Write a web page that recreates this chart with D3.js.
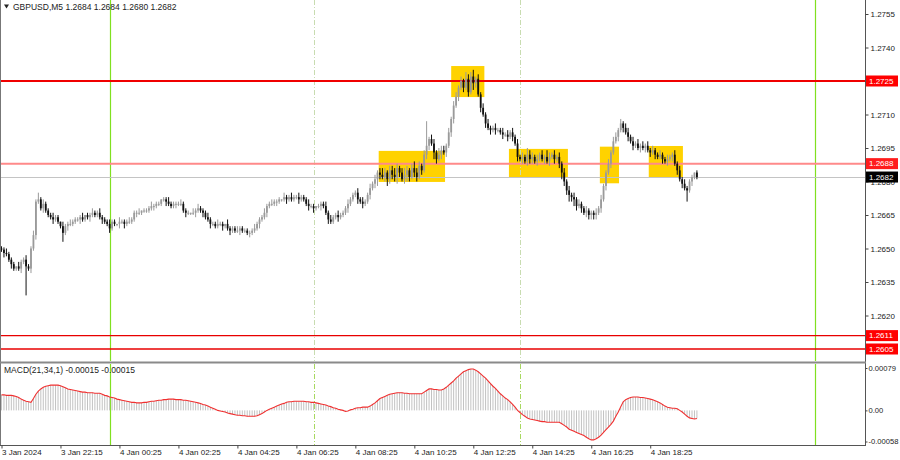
<!DOCTYPE html>
<html><head><meta charset="utf-8">
<script src="https://cdn.jsdelivr.net/npm/d3@7"></script>
<style>body{margin:0;background:#fff}svg{display:block;font-family:"Liberation Sans",Arial,sans-serif}</style>
</head><body><svg id="c" width="900" height="460"></svg>
<script>
// ---------------- DATA ----------------
const symbol = "GBPUSD,M5";
const headerOHLC = ["1.2684", "1.2684", "1.2680", "1.2682"];
const macdTitle = "MACD(21,34,1) -0.00015 -0.00015";
const basePrice = 1.2600;
// close of each M5 bar, in pips above basePrice
const closePips = [
  49.5,48,47.5,45, 43,41,42,41, 44,45,42,41, 50,56,71,72, 68,70,67,65,
  64,63,64,62, 60,57,60,61, 61,62,63,63, 64,63,65,64, 65,66,65,66,
  64,63,62,61, 59,62,61,61, 62,62,61,62, 62,63,66,66, 66,67,67,67,
  68,69,69,70, 70,72,72,71, 70,69,70,70, 70,70,67,66, 66,66,66,67,
  68,67,66,64, 63,61,61,60, 61,61,60,61, 59,58,59,58, 58,59,58,58,
  57,57,58,59, 61,63,64,66, 69,70,70,71, 71,72,72,73, 72,73,72,73,
  73,72,73,72, 70,69,69,68, 69,69,70,69, 66,63,62,64, 65,64,65,66,
  68,70,72,74, 75,72,71,70, 71,74,77,79, 81,84,83,82, 84,81,85,83,
  82,86,84,81, 83,85,82,86, 84,82,87,85, 92,96,99,97, 93,90,92,94,
  93,96,102,108, 114,118,122,125, 122,126,120,127, 124,126,119,113, 110,106,104,103,
  104,103,103,102, 101,101,100,102, 100,97,91,90, 91,89,92,90, 91,89,90,92,
  90,91,89,91, 92,90,91,88, 84,80,76,74, 73,72,69,70, 68,66,67,65,
  66,65,66,68, 72,78,84,88, 93,98,100,103, 106,104,102,100, 98,96,97,95,
  96,95,96,94, 93,94,92,91, 92,90,89,90, 91,92,88,85, 81,79,77,76,
  80,82,84,82
];
// upper / lower shadow length of each bar in pips (one base-36 digit per bar)
const wickUp = [
  "1121110211","2112131211","1211021121","1112011211","2111211021",
  "1121112011","1211101121","1112111021","2111211121","1021112111",
  "1112111211","2111021121","1211121101","1121211211","1211121211",
  "2121232122","3212321232","212b122132","2121221213","2231212121",
  "1211212121","2121322121","2132121212","1212121121","1121211212",
  "2121221212","1212121121","1211212121","1101"
].join("");
const wickDn = [
  "1211211121","d121211211","1211141211","1121112111","1211211121",
  "2111121111","1121111211","1211121112","1121121111","2112111211",
  "1211121121","1121112111","1211121211","2112111211","1211121211",
  "2123212322","2321232122","1212213212","1212212121","2132121212",
  "1211212121","2121222121","1212121232","2323212122","2221212121",
  "1212121211","2121212112","1212121215","1211"
].join("");
// MACD(21,34,1) value of each bar, x 1e-5
const macdVals = [
  29,29,28,28,28,27,26,24,21,19,17,16,15,
  22,30,36,40,43,45,46,47,
  47,47,47,46,44,42,40,
  39,38,37,36,35,34,
  34,33,33,33,32,32,32,
  30,28,27,25,
  24,23,21,20,19,18,17,
  16,15,15,14,
  14,14,15,15,16,
  17,17,18,19,19,20,20,
  21,21,21,20,20,20,
  19,19,18,17,16,15,14,
  13,11,10,8,
  6,4,2,0,
  -1,-2,-3,-5,-6,-7,
  -8,-9,-9,-10,-10,-11,
  -11,-11,-11,-10,
  -8,-6,-3,0,
  2,4,6,8,
  10,12,13,15,16,
  16,17,17,17,17,
  17,16,16,15,15,
  14,13,12,11,10,
  8,7,5,4,2,1,0,-2,
  -1,1,2,4,5,
  5,6,6,6,
  8,11,14,18,22,
  24,26,28,30,31,
  32,33,33,
  33,32,32,31,31,
  31,31,31,31,
  34,37,40,
  40,39,39,38,38,
  40,43,47,51,55,
  60,64,68,72,
  74,76,77,77,75,
  72,68,64,60,55,
  50,45,41,36,31,
  27,23,20,16,
  11,6,0,
  -4,-8,-11,-14,-16,
  -17,-18,-19,-20,-21,-21,-22,
  -22,-22,-22,-22,-22,
  -25,-28,-31,-35,
  -37,-39,-41,-43,-45,-47,
  -50,-53,-55,
  -55,-53,-50,
  -46,-41,-36,-31,-26,-20,
  -11,-3,7,16,
  20,22,24,
  25,25,25,24,24,
  23,22,21,20,
  18,16,14,11,8,6,
  5,4,4,3,
  0,-3,-7,-11,-14,
  -15,-16,-15
];
const timeLabels = ["3 Jan 2024","3 Jan 22:15","4 Jan 00:25","4 Jan 02:25","4 Jan 04:25","4 Jan 06:25",
  "4 Jan 08:25","4 Jan 10:25","4 Jan 12:25","4 Jan 14:25","4 Jan 16:25","4 Jan 18:25"];
const timeLabelBars = [0,24,48,72,96,120,144,168,192,216,240,264];
const priceTicks = [1.2755,1.2740,1.2725,1.2710,1.2695,1.2680,1.2665,1.2650,1.2635,1.2620];
const macdTicks = [0.00079, 0, -0.00058];
const macdTickLabels = ["0.00079","0.00","-0.00058"];
const levels = [1.2725, 1.2688, 1.2611, 1.2605];
const currentPrice = 1.2682;
// highlighted zones: [start bar, end bar, top price, bottom price]
const zones = [
  [153.5, 180.5, 1.26937, 1.26798],
  [183.0, 196.5, 1.27317, 1.27178],
  [206.5, 230.5, 1.26946, 1.26820],
  [243.5, 251.3, 1.26956, 1.26792],
  [263.4, 277.3, 1.26959, 1.26820]
];
const dayBreakBars = [44, 331];
const sessionBars = [127, 211];

// ---------------- DRAW ----------------
const svg = d3.select("#c");
const plotR = 865, mainB = 361, macdT = 364, macdB = 445;
const x = d3.scaleLinear().domain([0, 351.4]).range([1.5, plotR]);
const y = d3.scaleLinear().domain([1.2755, 1.2620]).range([14, 315.5]);
const ym = d3.scaleLinear().domain([0.00079, -0.00058]).range([368, 441.5]);
const pip = 0.0001;
const FS = 8;

const bars = closePips.map((c, i) => {
  const close = basePrice + c * pip;
  const open = basePrice + (i ? closePips[i - 1] : c + 0.5) * pip;
  const hi = Math.max(open, close) + parseInt(wickUp[i], 36) * pip;
  const lo = Math.min(open, close) - parseInt(wickDn[i], 36) * pip;
  return {i, open, close, hi, lo};
});

const defs = svg.append("defs");
defs.append("clipPath").attr("id", "cm").append("rect").attr("x", 0).attr("y", 0).attr("width", plotR).attr("height", mainB);
defs.append("clipPath").attr("id", "cd").append("rect").attr("x", 0).attr("y", macdT).attr("width", plotR).attr("height", macdB - macdT);

const gm = svg.append("g").attr("clip-path", "url(#cm)");
const gd = svg.append("g").attr("clip-path", "url(#cd)");

// zones
gm.selectAll("rect.zone").data(zones).join("rect").attr("class", "zone")
  .attr("x", d => x(d[0])).attr("width", d => x(d[1]) - x(d[0]))
  .attr("y", d => y(d[2])).attr("height", d => y(d[3]) - y(d[2]))
  .attr("fill", "#ffd200");

// session dash-dot lines and day separators (both panels)
[gm, gd].forEach((g, k) => {
  g.selectAll("line.sess").data(sessionBars).join("line").attr("class", "sess")
    .attr("x1", d => Math.round(x(d)) + 0.5).attr("x2", d => Math.round(x(d)) + 0.5)
    .attr("y1", k ? macdT : 0).attr("y2", k ? macdB : mainB)
    .attr("stroke", k ? "#a8d860" : "#c8dcb0").attr("stroke-width", 1).attr("stroke-dasharray", "5,2,1,2");
  g.selectAll("line.day").data(dayBreakBars).join("line").attr("class", "day")
    .attr("x1", d => Math.round(x(d)) + 0.5).attr("x2", d => Math.round(x(d)) + 0.5)
    .attr("y1", k ? macdT : 0).attr("y2", k ? macdB : mainB)
    .attr("stroke", "#80e020").attr("stroke-width", 1.2);
});

// level lines
const levelStroke = ["#f00000", "#ff8a8a", "#e80000", "#e80000"];
const levelWidth = [2, 2, 1.3, 1.3];
gm.selectAll("line.lvl").data(levels).join("line").attr("class", "lvl")
  .attr("x1", 0).attr("x2", plotR)
  .attr("y1", d => y(d)).attr("y2", d => y(d))
  .attr("stroke", (d, i) => levelStroke[i]).attr("stroke-width", (d, i) => levelWidth[i]);
gm.append("line").attr("x1", 0).attr("x2", plotR)
  .attr("y1", Math.round(y(currentPrice)) + 0.5).attr("y2", Math.round(y(currentPrice)) + 0.5)
  .attr("stroke", "#c4c4c4").attr("stroke-width", 1);

// candles
const cg = gm.append("g");
cg.selectAll("line.w").data(bars).join("line").attr("class", "w")
  .attr("x1", d => x(d.i)).attr("x2", d => x(d.i))
  .attr("y1", d => y(d.hi)).attr("y2", d => y(d.lo))
  .attr("stroke", d => d.close >= d.open ? "#9a9a9a" : "#111").attr("stroke-width", 1);
cg.selectAll("rect.b").data(bars).join("rect").attr("class", "b")
  .attr("x", d => x(d.i) - 0.9).attr("width", 1.8)
  .attr("y", d => y(Math.max(d.open, d.close)))
  .attr("height", d => Math.max(1, Math.abs(y(d.open) - y(d.close))))
  .attr("fill", d => d.close >= d.open ? "#9a9a9a" : "#111");

// MACD histogram + line
gd.selectAll("line.h").data(macdVals).join("line").attr("class", "h")
  .attr("x1", (d, i) => x(i)).attr("x2", (d, i) => x(i))
  .attr("y1", ym(0)).attr("y2", d => ym(d * 1e-5))
  .attr("stroke", "#c2c2c2").attr("stroke-width", 1);
gd.append("path").datum(macdVals)
  .attr("d", d3.line().x((d, i) => x(i)).y(d => ym(d * 1e-5)))
  .attr("fill", "none").attr("stroke", "#f03030").attr("stroke-width", 1.1);

// borders
svg.append("line").attr("x1", 0.5).attr("x2", 0.5).attr("y1", 0).attr("y2", macdB).attr("stroke", "#777");
svg.append("line").attr("x1", plotR + 0.5).attr("x2", plotR + 0.5).attr("y1", 0).attr("y2", macdB).attr("stroke", "#555");
svg.append("rect").attr("x", 0).attr("y", mainB + 0.5).attr("width", plotR + 1).attr("height", 2).attr("fill", "#8a8a8a");
svg.append("line").attr("x1", 0).attr("x2", plotR + 1).attr("y1", macdB + 0.5).attr("y2", macdB + 0.5).attr("stroke", "#555");

// price axis
const pa = svg.append("g").attr("transform", `translate(${plotR + 0.5},0)`)
  .call(d3.axisRight(y).tickValues(priceTicks).tickFormat(d3.format(".4f")).tickSize(3).tickPadding(2));
pa.select(".domain").remove();
pa.selectAll("line").attr("stroke", "#444");
pa.selectAll("text").attr("font-size", FS).attr("fill", "#222").attr("font-family", "Liberation Sans, Arial");

// macd axis
const ma = svg.append("g").attr("transform", `translate(${plotR + 0.5},0)`)
  .call(d3.axisRight(ym).tickValues(macdTicks).tickFormat((d, i) => macdTickLabels[i]).tickSize(2).tickPadding(1));
ma.select(".domain").remove();
ma.selectAll("line").attr("stroke", "#444");
ma.selectAll("text").attr("font-size", 7.6).attr("fill", "#222").attr("font-family", "Liberation Sans, Arial");

// time axis
const ta = svg.append("g").attr("transform", `translate(0,${macdB + 0.5})`)
  .call(d3.axisBottom(x).tickValues(timeLabelBars).tickFormat((d, i) => timeLabels[i]).tickSize(3));
ta.select(".domain").remove();
ta.selectAll("line").attr("stroke", "#444");
ta.selectAll("text").attr("font-size", FS).attr("fill", "#222").attr("text-anchor", "start")
  .attr("y", 4).attr("font-family", "Liberation Sans, Arial");

// price level tags
const tagFill = ["#ff0000", "#ff1c1c", "#ff0000", "#ff0000"];
const tags = svg.append("g");
levels.forEach((p, i) => {
  tags.append("rect").attr("x", plotR + 1).attr("y", y(p) - 5.5).attr("width", 32).attr("height", 11).attr("fill", tagFill[i]);
  tags.append("text").attr("x", plotR + 4).attr("y", y(p)).attr("dy", "0.35em")
    .attr("font-size", FS).attr("fill", "#fff").text(d3.format(".4f")(p));
});
tags.append("rect").attr("x", plotR + 1).attr("y", y(currentPrice) - 5.5).attr("width", 32).attr("height", 11).attr("fill", "#000");
tags.append("text").attr("x", plotR + 4).attr("y", y(currentPrice)).attr("dy", "0.35em")
  .attr("font-size", FS).attr("fill", "#fff").text(d3.format(".4f")(currentPrice));

// header
svg.append("path").attr("d", "M4,4.5 L9,4.5 L6.5,8.5 Z").attr("fill", "#222");
svg.append("text").attr("x", 13).attr("y", 7).attr("dy", "0.35em").attr("font-size", FS + 0.5).attr("fill", "#222")
  .text(symbol + "  " + headerOHLC.join(" "));
svg.append("text").attr("x", 4).attr("y", 370).attr("dy", "0.35em").attr("font-size", FS + 0.5).attr("fill", "#222")
  .text(macdTitle);
</script>
</body></html>
